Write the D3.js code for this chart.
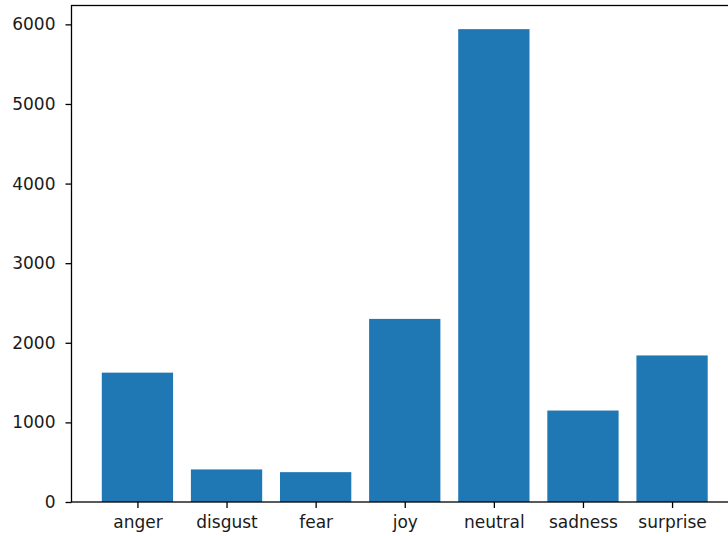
<!DOCTYPE html>
<html>
<head>
<meta charset="utf-8">
<script src="https://cdn.jsdelivr.net/npm/d3@7"></script>
<style>
  html, body { margin: 0; padding: 0; background: #fff; overflow: hidden; }
  svg { display: block; }
  text { font-family: "DejaVu Sans", sans-serif; }
</style>
</head>
<body>
<svg id="chart" width="728" height="536"></svg>
<script>
// Emotion label counts
const categories = ["anger", "disgust", "fear", "joy", "neutral", "sadness", "surprise"];
const counts = [1625, 409, 375, 2300, 5940, 1149, 1841];
const yTicks = [0, 1000, 2000, 3000, 4000, 5000, 6000];

(function draw() {
  const svg = d3.select("#chart");
  const plotLeft = 71.5, plotTop = 5.5, plotBottom = 502, plotRight = 738;
  const barWidth = 0.8;
  const fontPx = 17;

  // Index-based x with 5% margins around the bar extents
  const xMin = -barWidth / 2, xMax = categories.length - 1 + barWidth / 2;
  const xPad = (xMax - xMin) * 0.05;
  const x = d3.scaleLinear().domain([xMin - xPad, xMax + xPad]).range([plotLeft, plotRight]);
  const y = d3.scaleLinear().domain([0, d3.max(counts) * 1.05]).range([plotBottom, plotTop]);

  // Bars
  svg.append("g")
    .selectAll("rect")
    .data(counts)
    .join("rect")
    .attr("x", (d, i) => x(i - barWidth / 2))
    .attr("width", (d, i) => x(i + barWidth / 2) - x(i - barWidth / 2))
    .attr("y", d => y(d))
    .attr("height", d => y(0) - y(d))
    .attr("fill", "#1f77b4");

  // Axes
  const xAxis = d3.axisBottom(x)
    .tickValues(d3.range(categories.length))
    .tickFormat(i => categories[i])
    .tickSize(6).tickPadding(8);
  const yAxis = d3.axisLeft(y)
    .tickValues(yTicks)
    .tickFormat(d3.format("d"))
    .tickSize(6).tickPadding(10);

  const gx = svg.append("g").attr("transform", `translate(0,${plotBottom})`).call(xAxis);
  const gy = svg.append("g").attr("transform", `translate(${plotLeft},0)`).call(yAxis);

  [gx, gy].forEach(g => {
    g.select(".domain").remove();
    g.selectAll(".tick line").attr("stroke", "#000").attr("stroke-width", 1.3);
    g.selectAll(".tick text").attr("fill", "#1a1a1a").style("font-size", fontPx + "px")
      .style("font-family", "'DejaVu Sans', sans-serif");
  });

  // Frame (spines)
  svg.append("rect")
    .attr("x", plotLeft).attr("y", plotTop)
    .attr("width", plotRight - plotLeft).attr("height", plotBottom - plotTop)
    .attr("fill", "none").attr("stroke", "#000").attr("stroke-width", 1.3);
})();
</script>
</body>
</html>
